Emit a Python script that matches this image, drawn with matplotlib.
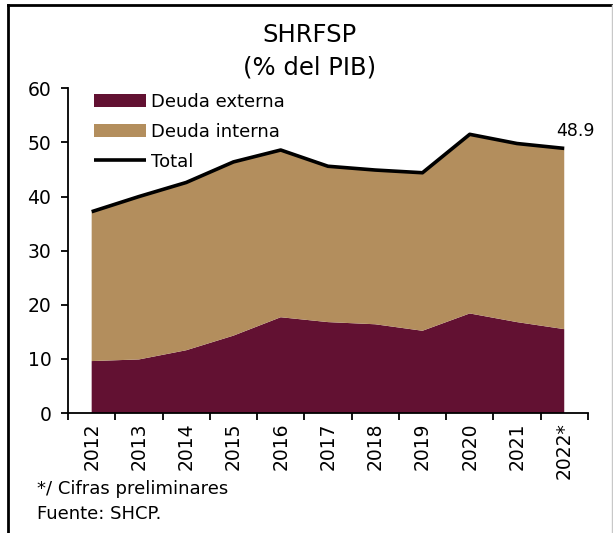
import numpy as np
import matplotlib
matplotlib.use('agg')
import matplotlib.pyplot as plt
from matplotlib.lines import Line2D

# data (% del PIB)
years = ['2012', '2013', '2014', '2015', '2016', '2017', '2018', '2019', '2020', '2021', '2022*']
externa = [9.6, 9.9, 11.6, 14.3, 17.7, 16.8, 16.4, 15.2, 18.4, 16.8, 15.5]
total = [37.2, 40.0, 42.6, 46.4, 48.6, 45.6, 44.9, 44.4, 51.5, 49.8, 48.9]
interna = [t - e for t, e in zip(total, externa)]

c_ext = '#621132'
c_int = '#B38E5D'

plt.rcParams['font.family'] = 'DejaVu Sans'

fig = plt.figure(figsize=(6.13, 5.33), dpi=100)
ax = fig.add_axes([0.111, 0.2251, 0.848, 0.6092])

x = np.arange(len(years))
ax.stackplot(x, externa, interna, colors=[c_ext, c_int],
             labels=['Deuda externa', 'Deuda interna'])
ax.plot(x, total, color='black', lw=2.6, label='Total', solid_capstyle='butt')

# last value label
ax.annotate('%.1f' % total[-1], (x[-1], total[-1]), xytext=(8, 6),
            textcoords='offset points', ha='center', va='bottom', fontsize=12.5)

ax.set_xlim(-0.5, len(years) - 0.5)
ax.set_ylim(0, 60)
ax.set_yticks(range(0, 61, 10))

# tick marks on category boundaries, labels at centres
ax.set_xticks(np.arange(-0.5, len(years), 1.0))
ax.set_xticklabels([])
ax.set_xticks(x, minor=True)
ax.set_xticklabels(years, minor=True, rotation=90, fontsize=13.5)
ax.tick_params(axis='x', which='minor', length=0, pad=7)
ax.tick_params(axis='x', which='major', length=5, width=1.3, direction='out')
ax.tick_params(axis='y', length=5, width=1.3, labelsize=13.5, pad=7)

for s in ['top', 'right']:
    ax.spines[s].set_visible(False)
ax.spines['left'].set_linewidth(1.3)
ax.spines['bottom'].set_linewidth(1.3)

leg = ax.legend(loc='upper left', bbox_to_anchor=(0.025, 1.025), frameon=False,
                fontsize=13, handlelength=2.9, handletextpad=0.25,
                labelspacing=0.66, borderaxespad=0.3)

fig.text(0.505, 0.935, 'SHRFSP', ha='center', va='center', fontsize=17.5)
fig.text(0.505, 0.873, '(% del PIB)', ha='center', va='center', fontsize=17.5)

fig.text(0.06, 0.082, '*/ Cifras preliminares', ha='left', va='center', fontsize=13)
fig.text(0.06, 0.035, 'Fuente: SHCP.', ha='left', va='center', fontsize=13)

# frame around the chart
fig.add_artist(Line2D([0.0135, 0.0135], [0.0, 0.99], color='black', lw=2,
                      transform=fig.transFigure))
fig.add_artist(Line2D([0.0135, 0.998], [0.99, 0.99], color='black', lw=2,
                      transform=fig.transFigure))
fig.add_artist(Line2D([0.998, 0.998], [0.0, 0.99], color='#c8c8c8', lw=1,
                      transform=fig.transFigure))

fig.savefig('out.png', dpi=100)
